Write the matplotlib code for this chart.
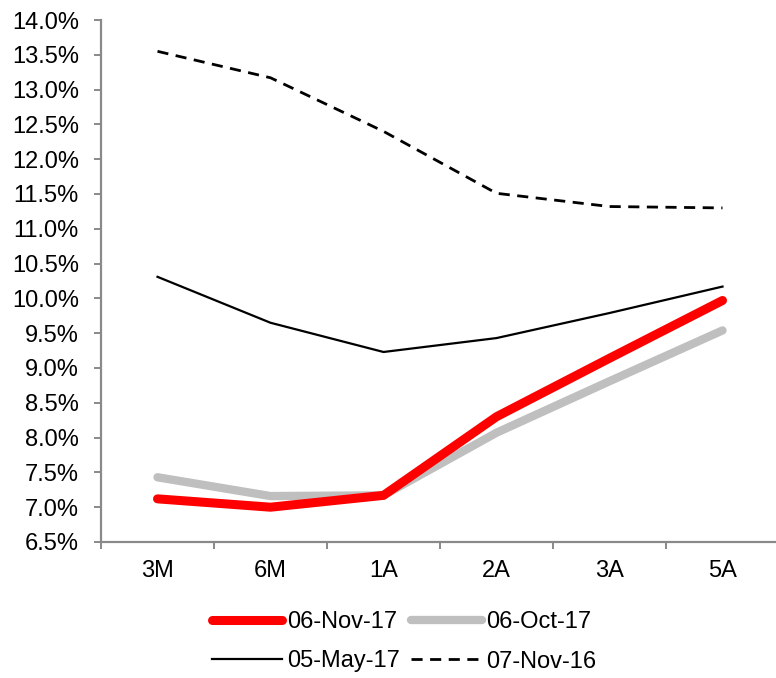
import numpy as np
import matplotlib
matplotlib.use("Agg")
import matplotlib.pyplot as plt
from matplotlib.ticker import FixedLocator, MultipleLocator, FuncFormatter

plt.rcParams['font.family'] = ['Liberation Sans', 'DejaVu Sans']

# Yield curve by tenor
tenors = ["3M", "6M", "1A", "2A", "3A", "5A"]
nov17 = [7.12, 7.00, 7.17, 8.30, 9.14, 9.97]
oct17 = [7.43, 7.16, 7.17, 8.07, 8.81, 9.54]
may17 = [10.31, 9.65, 9.23, 9.43, 9.79, 10.17]
nov16 = [13.55, 13.17, 12.40, 11.51, 11.32, 11.30]

fig = plt.figure(figsize=(7.76, 6.78), dpi=100)
W, H = 776, 678
ax = fig.add_axes([101 / W, 1 - 542 / H, 678 / W, (542 - 20) / H])

x = np.arange(len(tenors)) + 0.5

series = [
    (nov17, "06-Nov-17", dict(color="#ff0000", lw=6.5, solid_capstyle="round",
                              solid_joinstyle="round", zorder=4)),
    (may17, "05-May-17", dict(color="black", lw=1.6, solid_joinstyle="round",
                              zorder=2)),
    (oct17, "06-Oct-17", dict(color="#bfbfbf", lw=6.0, solid_capstyle="round",
                              solid_joinstyle="round", zorder=3)),
    (nov16, "07-Nov-16", dict(color="black", lw=2.0, linestyle=(0, (4.0, 2.7)),
                              zorder=2)),
]
for vals, label, style in series:
    ax.plot(x, vals, label=label, **style)

ax.set_xlim(0, len(tenors))
ax.set_ylim(6.5, 14.0)
ax.yaxis.set_major_locator(MultipleLocator(0.5))
ax.yaxis.set_major_formatter(FuncFormatter(lambda v, _: f"{v:.1f}%"))

ax.xaxis.set_major_locator(FixedLocator(np.arange(len(tenors) + 1)))
ax.set_xticklabels([])
ax.set_xticks(x, minor=True)
ax.set_xticklabels(tenors, minor=True)

spine_col = "#898989"
for s in ["top", "right"]:
    ax.spines[s].set_visible(False)
for s in ["left", "bottom"]:
    ax.spines[s].set_color(spine_col)
    ax.spines[s].set_linewidth(1.6)

ax.tick_params(axis="y", which="major", direction="out", length=5, width=1.4,
               color=spine_col, labelsize=17, pad=11, labelcolor="black")
ax.tick_params(axis="x", which="major", direction="out", length=5, width=1.4,
               color=spine_col)
ax.tick_params(axis="x", which="minor", length=0, labelsize=17, pad=13,
               labelcolor="black")

leg = fig.legend(loc="center", bbox_to_anchor=(404 / W, 1 - 642 / H), ncol=2,
                 frameon=False, fontsize=17, handlelength=3.0,
                 handletextpad=0.2, columnspacing=0.45, labelspacing=0.72,
                 borderaxespad=0, borderpad=0)

fig.savefig("out.png", dpi=100)
